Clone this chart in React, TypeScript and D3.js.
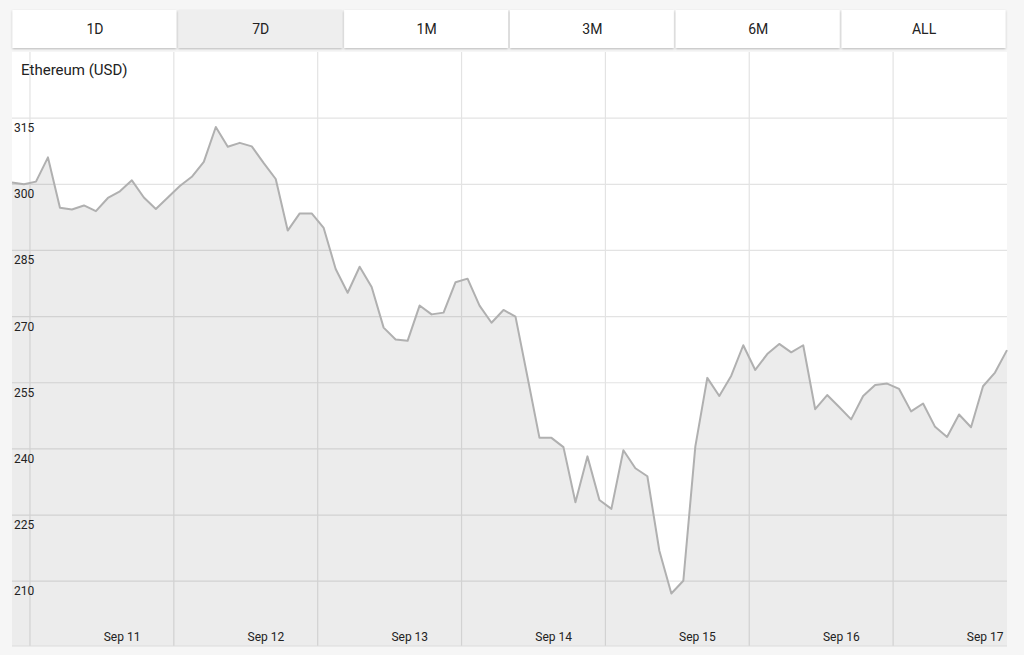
import React from "react";
import * as d3 from "d3";

const buttons = ["1D", "7D", "1M", "3M", "6M", "ALL"];
const activeButton = "7D";
const title = "Ethereum (USD)";
const yTicks = [210, 225, 240, 255, 270, 285, 300, 315];
const dayTicks = ["2017-09-11", "2017-09-12", "2017-09-13", "2017-09-14", "2017-09-15", "2017-09-16", "2017-09-17"];
const startTime = "2017-09-10T21:00:00Z";
const stepHours = 2;
const prices = [
  300.4, 300.0, 300.6, 306.1, 294.7, 294.3, 295.2, 293.9, 296.9, 298.4,
  300.9, 297.0, 294.4, 297.0, 299.6, 301.7, 305.1, 313.0, 308.5, 309.4,
  308.6, 304.8, 301.2, 289.5, 293.4, 293.4, 290.1, 280.8, 275.4, 281.3,
  276.7, 267.5, 264.8, 264.5, 272.5, 270.5, 270.9, 277.8, 278.6, 272.5,
  268.6, 271.5, 270.0, 256.3, 242.5, 242.5, 240.4, 227.9, 238.3, 228.4,
  226.4, 239.7, 235.6, 233.8, 216.9, 207.2, 210.1, 240.5, 256.1, 252.0,
  256.6, 263.5, 257.9, 261.5, 263.8, 261.9, 263.5, 249.0, 252.2, 249.5,
  246.7, 252.0, 254.5, 254.8, 253.6, 248.5, 250.3, 245.0, 242.7, 247.8,
  244.9, 254.2, 257.3, 262.4,
];

const W = 1024;
const H = 655;
const panel = { left: 12, right: 1007, top: 52, bottom: 646 };
const font = "Roboto, 'Noto Sans', sans-serif";

export default function App() {
  const t0 = new Date(startTime).getTime();
  const data = prices.map((v, i) => ({ t: new Date(t0 + i * stepHours * 3600e3), v }));
  const x = d3
    .scaleUtc()
    .domain([data[0].t, data[data.length - 1].t])
    .range([panel.left, panel.right]);
  const y = d3.scaleLinear().domain([195.3, 330]).range([panel.bottom, panel.top]);

  const line = d3
    .line<{ t: Date; v: number }>()
    .x((d) => x(d.t))
    .y((d) => y(d.v));
  const area = d3
    .area<{ t: Date; v: number }>()
    .x((d) => x(d.t))
    .y0(panel.bottom)
    .y1((d) => y(d.v));

  const days = dayTicks.map((s) => new Date(s + "T00:00:00Z"));
  const dayPx = x(new Date(t0 + 24 * 3600e3)) - x(new Date(t0));
  const fmt = d3.utcFormat("%b %-d");

  const btnW = (panel.right - panel.left) / buttons.length;

  return (
    <div style={{ position: "fixed", left: 0, top: 0 }}>
      <svg width={W} height={H} style={{ display: "block" }} fontFamily={font}>
        <defs>
          <filter id="sh" x="-5%" y="-30%" width="110%" height="170%">
            <feDropShadow dx="0" dy="1" stdDeviation="1.2" floodColor="#000" floodOpacity="0.25" />
          </filter>
        </defs>
        <rect x={0} y={0} width={W} height={H} fill="#f6f6f6" />
        {buttons.map((b, i) => (
          <g key={b}>
            <rect
              x={panel.left + i * btnW + 0.5}
              y={10}
              width={btnW - 2}
              height={38}
              fill={b === activeButton ? "#eeeeee" : "#ffffff"}
              filter="url(#sh)"
            />
            <text
              x={panel.left + i * btnW + btnW / 2}
              y={34}
              textAnchor="middle"
              fontSize={14}
              fill="#222"
            >
              {b}
            </text>
          </g>
        ))}
        <rect
          x={panel.left}
          y={panel.top}
          width={panel.right - panel.left}
          height={panel.bottom - panel.top}
          fill="#ffffff"
        />
        {yTicks.map((t) => (
          <line
            key={"h" + t}
            x1={panel.left}
            x2={panel.right}
            y1={y(t)}
            y2={y(t)}
            stroke="#e3e3e3"
            strokeWidth={1.2}
          />
        ))}
        {days.map((d, i) => (
          <line
            key={"v" + i}
            x1={x(d)}
            x2={x(d)}
            y1={panel.top}
            y2={panel.bottom}
            stroke="#e3e3e3"
            strokeWidth={1.2}
          />
        ))}
        <path d={area(data) || ""} fill="rgba(0,0,0,0.075)" />
        <path d={line(data) || ""} fill="none" stroke="#b0b0b0" strokeWidth={2} strokeLinejoin="round" />
        <line
          x1={panel.left}
          x2={panel.right}
          y1={panel.bottom}
          y2={panel.bottom}
          stroke="#dcdcdc"
          strokeWidth={1.2}
        />
        <text x={21} y={75} fontSize={15} fill="#222">
          {title}
        </text>
        {yTicks.map((t) => (
          <text key={"yl" + t} x={14} y={y(t) + 14} fontSize={12} fill="#222">
            {t}
          </text>
        ))}
        {days.map((d, i) => (
          <text
            key={"xl" + i}
            x={x(d) + dayPx * 0.64}
            y={641}
            textAnchor="middle"
            fontSize={12}
            fill="#222"
          >
            {fmt(d)}
          </text>
        ))}
      </svg>
    </div>
  );
}
